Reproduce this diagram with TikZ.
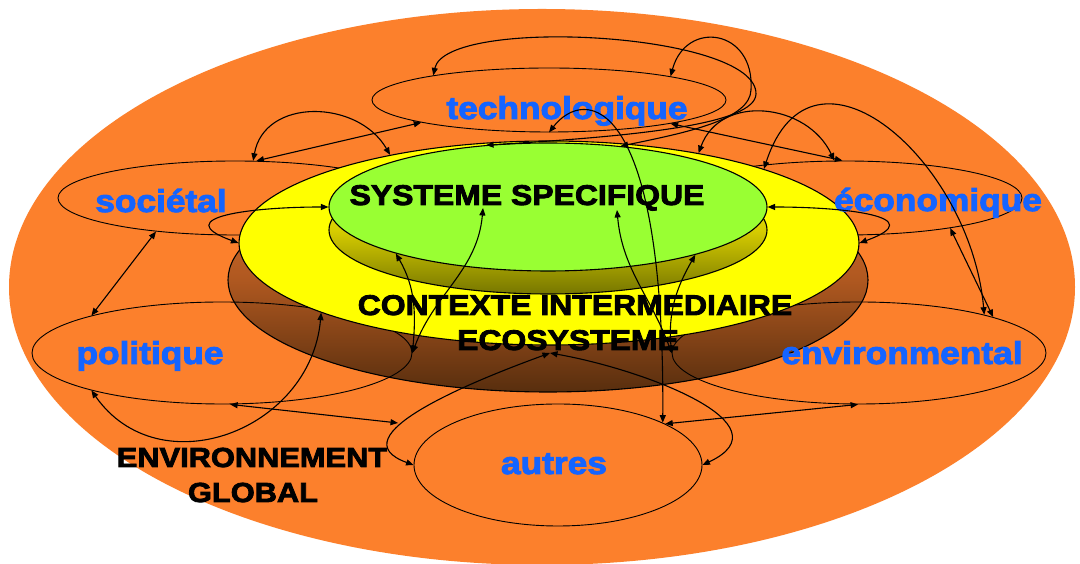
\documentclass[tikz,border=0pt]{standalone}
\usepackage{fontspec}
\setmainfont{Liberation Sans}
\newfontfamily\heavyfont{Liberation Sans}[BoldFeatures={FakeStretch=1.12,FakeBold=3}]
\usetikzlibrary{shapes.geometric,arrows.meta}
\definecolor{bgorange}{RGB}{252,128,44}
\definecolor{sysgreen}{RGB}{153,255,51}
\definecolor{ctxyellow}{RGB}{255,255,0}
\definecolor{lblblue}{RGB}{20,100,255}
\definecolor{brownA}{RGB}{225,115,45}
\definecolor{brownB}{RGB}{175,88,32}
\definecolor{brownC}{RGB}{88,46,14}
\definecolor{oliveA}{RGB}{255,250,0}
\definecolor{oliveB}{RGB}{215,205,0}
\definecolor{oliveC}{RGB}{118,118,0}
\begin{document}
\begin{tikzpicture}[x=1pt,y=1pt,
	>={Triangle[length=7.5pt,width=6pt]},
	oval/.style n args={2}{ellipse,inner sep=0pt,minimum width=#1pt,minimum height=#2pt},
	ring/.style={draw=black,line width=0.9pt},
	layerline/.style={draw=black,line width=1.1pt},
	fieldtext/.style={font=\heavyfont\bfseries\fontsize{31.5}{36}\selectfont,text=lblblue,anchor=base,inner sep=0pt},
	capstext/.style={font=\heavyfont\bfseries\fontsize{28.5}{34}\selectfont,anchor=base,inner sep=0pt},
	link/.style={<->,line width=1.1pt}]
		\useasboundingbox (0,0) rectangle (1080,564);
		\fill[white] (0,0) rectangle (1080,564);
		\node[oval={1066}{556},fill=bgorange] (glob) at (542,277) {};
		\node[oval={640}{224},layerline,top color=brownA,bottom color=brownC,middle color=brownB] (ecosys) at (548,284) {};

		% domaines
		\node[oval={354}{64},ring] (tech) at (549,464) {};
		\node[oval={354}{74},ring] (soc) at (235,366) {};
		\node[oval={354}{74},ring] (econ) at (845,366) {};
		\node[oval={380}{102},ring] (pol) at (222,211) {};
		\node[oval={374}{102},ring] (env) at (859,211) {};
		\node[oval={288}{122},ring] (aut) at (558,99) {};

		\node[oval={620}{204},layerline,fill=ctxyellow] (ctx) at (549,321) {};
		\node[oval={438}{128},layerline,top color=oliveA,bottom color=oliveC,middle color=oliveB] (sysbase) at (548,334) {};
		\node[oval={438}{128},layerline,fill=sysgreen] (sys) at (548,357) {};

		\node[fieldtext] (techlbl) at (567,445) {technologique};
		\node[fieldtext] (soclbl) at (161,352) {sociétal};
		\node[fieldtext] (econlbl) at (938,353) {économique};
		\node[fieldtext] (pollbl) at (150,200) {politique};
		\node[fieldtext] (envlbl) at (902,200) {environmental};
		\node[fieldtext] (autlbl) at (554,90) {autres};
		\node[capstext] (syslbl) at (527,359) {SYSTEME SPECIFIQUE};
		\node[capstext] (ctxlbl) at (575,249) {CONTEXTE INTERMEDIAIRE};
		\node[capstext] (ctxlblb) at (568,214) {ECOSYSTEME};
		\node[capstext,font=\heavyfont\bfseries\fontsize{27.5}{32}\selectfont] (globlbl) at (252,97) {ENVIRONNEMENT};
		\node[capstext,font=\heavyfont\bfseries\fontsize{27.5}{32}\selectfont] (globlblb) at (253,62) {GLOBAL};

		\coordinate (ecoin) at (550,211);
		\coordinate (sysL) at (483,356);
		\coordinate (sysR) at (617,354);
		\coordinate (autin) at (398,141);

		% voisins
		\draw[link] (soc.60) -- (tech.190);
		\draw[link] (tech.-11) -- (econ.94);
		\draw[link] (econ.-16) -- (env.15);
		\draw[link] (soc.203) -- (pol.164);
		\draw[link] (pol.-81) -- (autin);
		\draw[link] (aut.21) -- (env.269);

		% vers le centre
		\draw[link] (soc.64) to[out=80,in=120,looseness=1.2] (ctx.151);
		\draw[link] (ctx.180) to[out=160,in=180,looseness=2] (sys.180);
		\draw[link] (ctx.31) to[out=70,in=115,looseness=1.2] (econ.106);
		\draw[link] (ctx.0) to[out=20,in=0,looseness=2] (sys.0);
		\draw[link] (ctx.19) to[out=72,in=95,looseness=1.5] (env.17);
		\draw[link] (pol.196) to[out=-55,in=-95,looseness=1.25] (ctx.197);
		\draw[link] (pol.0) to[out=85,in=-60] (sys.197);
		\draw[link] (pol.0) to[out=70,in=-95] (sysL);
		\draw[link] (env.180) to[out=95,in=-120] (sys.-18);
		\draw[link] (env.180) to[out=110,in=-85] (sysR);
		\draw[link] (ecoin) to[out=200,in=160,looseness=1.2] (aut.180);
		\draw[link] (ecoin) to[out=-10,in=25,looseness=1.3] (aut.0);
		\draw[link] (tech.-90) .. controls (585,478) and (665,470) .. (aut.22);
		\draw[link] (tech.168) .. controls (446,548) and (757,532) .. (756,470) .. controls (755,440) and (640,428) .. (sys.135);
		\draw[link] (tech.11) .. controls (686,545) and (755,535) .. (751,474) .. controls (750,445) and (690,432) .. (sys.40);
\end{tikzpicture}
\end{document}
